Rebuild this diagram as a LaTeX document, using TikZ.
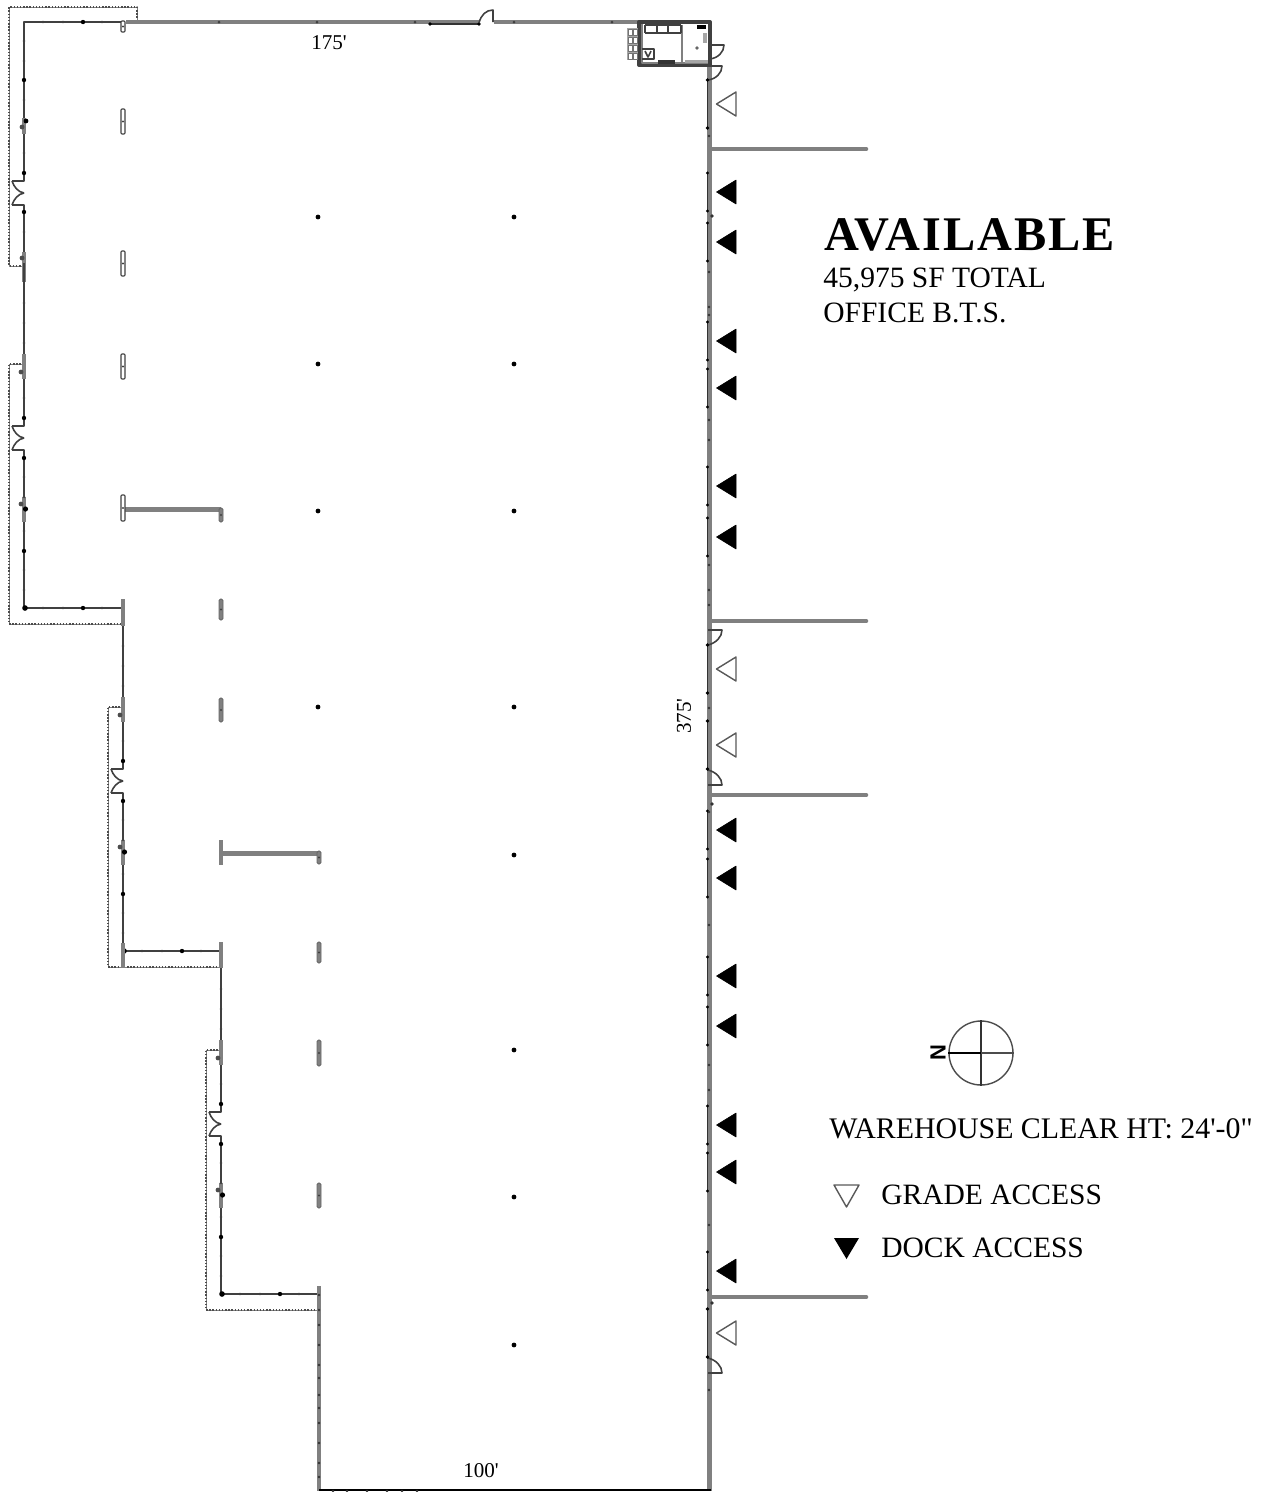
\documentclass[tikz,border=0pt]{standalone}
\usepackage{fontspec}
\newfontfamily\planfont{Liberation Serif}
\newfontfamily\titlefont[LetterSpace=4]{Liberation Serif}
\newfontfamily\northfont{Liberation Sans}
\definecolor{wallgray}{gray}{0.5}
\definecolor{walldark}{gray}{0.25}
\tikzset{
	wallthin/.style={draw=walldark,line width=1.1pt},
	wallthick/.style={draw=wallgray,line width=2.6pt},
	doorline/.style={draw=walldark,line width=0.9pt},
	dockdoor/.style={draw=black!80,line width=1.1pt},
	canopy/.style={draw=black!70,line width=0.8pt,densely dotted},
	canopyedge/.style={draw=black!50,line width=0.5pt},
	colhollow/.style={draw=walldark,fill=white,line width=0.6pt,rounded corners=0.5pt},
	colsolid/.style={draw=black!60,fill=black!50,line width=0.5pt,rounded corners=0.8pt},
	dockmark/.style={fill=black,draw=black,line width=0.3pt},
	grademark/.style={draw=black!65,fill=white,line width=0.8pt},
	planlabel/.style={font=\planfont\fontsize{12}{14}\selectfont,inner sep=0pt},
	legendlabel/.style={font=\planfont\fontsize{16.8}{19}\selectfont,inner sep=0pt,anchor=west},
}
% wall bay with double door, origin at wall line and door top
\newcommand{\doorbay}[3]{%
	\begin{scope}[shift={(#1,#2)}]
		\draw[canopyedge] (0,-62)--(-15,-62)--(-15,198)--(#3,198);
		\draw[canopy] (0,-62)--(-15,-62)--(-15,198)--(#3,198);
		\draw[wallthin] (0,-163)--(0,0)--(-12,0);
		\draw[wallthin] (-12,24)--(0,24)--(0,182)--(#3,182);
		\draw[doorline] (-12,0) .. controls (-10,6) and (-6,11) .. (0,12);
		\draw[doorline] (-12,24) .. controls (-10,18) and (-6,13) .. (0,12);
		\draw[wallthick,line width=1.8pt] (0,-72)--(0,-47);
		\draw[wallthick,line width=1.8pt] (0,71)--(0,96);
		\foreach \y in {-123,-103,-83,-28,51,71,105,144,164}{
			\fill[walldark] (0,\y) circle (1.4);
		}
		\foreach \y in {-8,32,125}{
			\fill[black] (0,\y) circle (2.2);
		}
		\fill[black] (1.5,83) circle (2.6);
		\fill[black] (1,182) circle (2.8);
		\fill[black!70] (-3,-54) circle (2.4);
		\fill[black!70] (-3,78) circle (2.4);
		\foreach \x in {19,39,78}{
			\fill[walldark] (\x,182) circle (1.4);
		}
		\fill[black] (59,182) circle (2.2);
	\end{scope}
}
\begin{document}
\begin{tikzpicture}[x=0.02cm,y=-0.02cm,line join=round,line cap=butt]
	\useasboundingbox (0,0) rectangle (1272,1492);
	% first bay, top left corner
	\draw[canopyedge] (137,21)--(137,7)--(9,7)--(9,266)--(25,266);
	\draw[canopy] (137,21)--(137,7)--(9,7)--(9,266)--(25,266);
	\draw[wallthin] (123,22)--(24,22)--(24,181)--(12,181);
	\draw[wallthin] (12,205)--(24,205)--(24,263);
	\draw[doorline] (12,181) .. controls (14,187) and (18,192) .. (24,193);
	\draw[doorline] (12,205) .. controls (14,199) and (18,194) .. (24,193);
	\draw[wallthick,line width=1.8pt] (24,118)--(24,134);
	\draw[wallthick,line width=1.8pt] (24,252)--(24,282);
	\foreach \y in {41,61,100,153,232}{
		\fill[walldark] (24,\y) circle (1.4);
	}
	\foreach \y in {80,173,212}{
		\fill[black] (24,\y) circle (2.2);
	}
	\fill[black] (26,121) circle (2.4);
	\fill[black!70] (22,127) circle (2.4);
	\fill[black!70] (22,258) circle (2.4);
	\foreach \x in {43,63,102}{
		\fill[walldark] (\x,22) circle (1.4);
	}
	\fill[black] (83,22) circle (2.2);
	% stepped bays
	\doorbay{24}{426}{99}
	\doorbay{123}{769}{98}
	\doorbay{221}{1112}{98}
	% main walls
	\draw[wallthick] (126,22)--(430,22);
	\draw[wallthick] (494,22)--(640,22);
	\draw[wallthick] (709.5,65)--(709.5,1491);
	\draw[wallthick] (319,1286)--(319,1491);
	\draw[draw=black,line width=1.3pt] (319,1490)--(711,1490);
	\draw[draw=wallgray,line width=1.2pt] (430,21.5)--(480,21.5);
	\draw[dockdoor] (430,24)--(479,24);
	\fill[black] (430,24) circle (1.8);
	\fill[black] (479,24) circle (1.8);
	\draw[doorline] (479,23) .. controls (481,15) and (486,10) .. (493,10)--(493,22);
	\foreach \x in {219,317,415,514,612}{
		\fill[walldark] (\x,22) circle (1.5);
	}
	\foreach \y in {1295,1310,1325,1345,1365,1378,1395,1408,1423,1443,1463,1477}{
		\fill[black!80] (319,\y) circle (1.4);
	}
	\foreach \x in {333,347,367,387,402,417}{
		\fill[black!80] (\x,1491) circle (1.4);
	}
	% interior walls
	\draw[wallthick] (123,509.5)--(221,509.5);
	\draw[wallthick] (221,853.5)--(319,853.5);
	\foreach \y in {149,621,795,1297}{
		\draw[wallthick,line cap=round] (711,\y)--(866,\y);
	}
	% column wraps
	\foreach \a/\b in {21/32,109/134,251/276,354/379,495/521}{
		\draw[colhollow] (121,\a) rectangle (125,\b);
		\fill[walldark] (123,{(\a+\b)/2}) circle (1.2);
	}
	\foreach \a/\b in {599/626,943/968}{
		\draw[wallthick,line width=1.8pt] (123,\a)--(123,\b);
	}
	\foreach \a/\b in {508/522,599/620,698/722}{
		\draw[colsolid] (219,\a) rectangle (223,\b);
		\fill[walldark] (221,{(\a+\b)/2}) circle (1.2);
	}
	\draw[wallthick,line width=1.8pt] (221,840)--(221,865);
	\draw[wallthick,line width=1.8pt] (221,942)--(221,968);
	\foreach \a/\b in {851/864,942/963,1040/1066,1183/1208}{
		\draw[colsolid] (317,\a) rectangle (321,\b);
		\fill[walldark] (319,{(\a+\b)/2}) circle (1.2);
	}
	\foreach \x/\y in {318/217,514/217,318/364,514/364,318/511,514/511,318/707,514/707,514/855,514/1050,514/1197,514/1345}{
		\fill[black] (\x,\y) circle (2.4);
	}
	% office corner
	\draw[draw=walldark,line width=1.9pt] (639,22) rectangle (710,65);
	\draw[draw=wallgray,line width=1.2pt] (642,24)--(642,63)--(708,63);
	\draw[draw=wallgray,line width=1.2pt] (682,25)--(682,62);
	\draw[doorline] (645,33)--(681,33);
	\draw[doorline] (645,25)--(681,25);
	\foreach \x in {645,657,668,681}{
		\draw[doorline] (\x,25)--(\x,33);
	}
	\fill[black!35] (627,28) rectangle (638,60);
	\foreach \a in {29,37,45,53}{
		\foreach \b in {628,633}{
			\draw[draw=black!55,fill=white,line width=0.4pt] (\b,\a) rectangle ++(4,6);
		}
	}
	\draw[doorline] (642,49)--(654,49)--(654,59)--(642,59);
	\draw[doorline] (645,51)--(648,57)--(651,51);
	\fill[black!80] (658,60) rectangle (675,64);
	\fill[black] (697,25) rectangle (706,29);
	\fill[black!35] (703,33) rectangle (707,43);
	\fill[black!60] (697,48) circle (1.8);
	\fill[black!35] (685,60) rectangle (708,63);
	% right side doors
	\draw[doorline] (710,45)--(724,45) .. controls (724,52) and (718,58) .. (710,59);
	\draw[doorline] (708,66)--(722,66) .. controls (722,73) and (716,79) .. (708,80);
	\draw[doorline] (708,630)--(722,630) .. controls (722,637) and (716,643) .. (708,645);
	\draw[doorline] (708,770) .. controls (716,772) and (722,778) .. (722,785)--(708,785);
	\draw[doorline] (708,1358) .. controls (716,1360) and (722,1366) .. (722,1373)--(708,1373);
	\foreach \y in {104,669,745,1333}{
		\draw[dockdoor] (707.5,\y-24)--(707.5,\y+24);
		\fill[black] (707.5,\y-24) circle (1.8);
		\fill[black] (707.5,\y+24) circle (1.8);
		\draw[grademark] (716.5,\y)--(736,\y-12)--(736,\y+12)--cycle;
	}
	\foreach \y in {192,242,341,388,486,537,830,878,976,1026,1125,1172,1271}{
		\draw[dockdoor] (707.5,\y-19)--(707.5,\y+19);
		\fill[black] (707.5,\y-19) circle (1.7);
		\fill[black] (707.5,\y+19) circle (1.7);
		\draw[dockmark] (716.5,\y)--(736,\y-12)--(736,\y+12)--cycle;
	}
	\foreach \y in {136,272,307,315,420,440,565,590,605,708,812,925,1065,1090,1225,1390}{
		\fill[black!80] (709,\y) circle (1.4);
	}
	\foreach \y in {216,804,1303}{
		\fill[black!80] (712,\y) circle (1.8);
	}
	% dimensions
	\node[planlabel] (widthtop) at (329,43) {175'};
	\node[planlabel] (widthbottom) at (481,1471) {100'};
	\node[planlabel,rotate=90] (depthright) at (684,716) {375'};
	% title block
	\node[font=\titlefont\bfseries\fontsize{27.5}{30}\selectfont,inner sep=0pt,anchor=base west] (available) at (824,250) {AVAILABLE};
	\node[legendlabel] (areatotal) at (823,280) {45,975 SF TOTAL};
	\node[legendlabel] (officebts) at (823,313) {OFFICE B.T.S.};
	% north mark
	\node[draw=black!70,circle,line width=0.8pt,minimum size=1.28cm,inner sep=0pt] (northring) at (981,1053) {};
	\draw[draw=black!80,line width=0.7pt] (northring.north)--(northring.south);
	\draw[draw=black!70,line width=0.7pt] (northring.center)--(northring.east);
	\draw[draw=black,line width=1.2pt] (northring.west)--(northring.center);
	\node[font=\northfont\bfseries\fontsize{12.5}{14}\selectfont,rotate=90,inner sep=0pt] (northtag) at (938,1053) {N};
	% legend
	\node[legendlabel,font=\planfont\fontsize{17}{19}\selectfont] (clearht) at (829,1129) {WAREHOUSE CLEAR HT: 24'-0"};
	\draw[grademark] (834,1185)--(859,1185)--(846.5,1207)--cycle;
	\node[legendlabel] (gradetag) at (881,1195) {GRADE ACCESS};
	\fill[black] (834,1238)--(859,1238)--(846.5,1259)--cycle;
	\node[legendlabel] (docktag) at (881,1248) {DOCK ACCESS};
\end{tikzpicture}
\end{document}
